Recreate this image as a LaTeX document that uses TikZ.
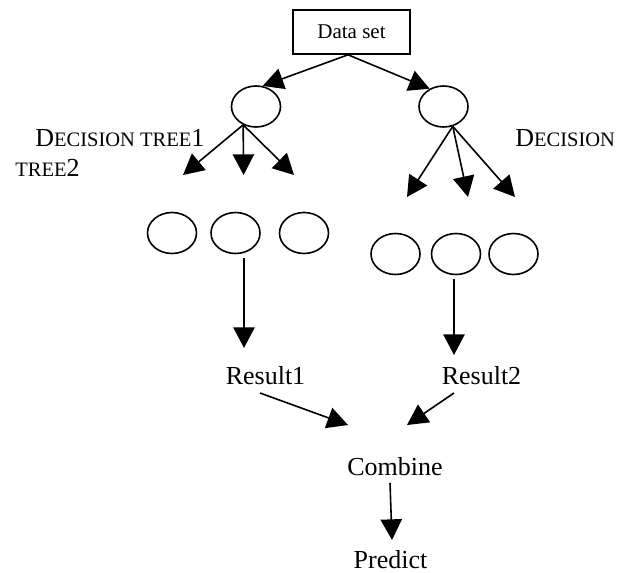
\documentclass[tikz,border=0pt]{standalone}
\usepackage{fontspec}
\setmainfont{Liberation Serif}
\usetikzlibrary{arrows.meta,shapes.geometric}
\newcommand\smallcapsfake[1]{{\fontsize{15.4pt}{15.4pt}\selectfont #1}}
\tikzset{
  arr/.style={line width=1.2pt,-{Triangle[length=15.5pt,width=16pt]}},
  ell/.style={ellipse,draw,line width=1.2pt,minimum width=36.75pt,minimum height=30.75pt,inner sep=0pt},
  boxnode/.style={rectangle,draw,line width=1.2pt,minimum width=87.75pt,minimum height=33pt,inner sep=0pt,font=\fontsize{15.75pt}{16pt}\selectfont},
  lbl/.style={inner sep=0pt,font=\fontsize{19.5pt}{20pt}\selectfont},
}
\begin{document}
\begin{tikzpicture}[x=0.75pt,y=-0.75pt]
\useasboundingbox (0,0) rectangle (625,572);
% nodes
\node[boxnode] (ds) at (351.5,32) {Data set};
\node[ell] (t1) at (256,106.5) {};
\node[ell] (t2) at (443.5,106.5) {};
\node[ell] (a1) at (172,233) {};
\node[ell] (a2) at (235.5,233) {};
\node[ell] (a3) at (304,233) {};
\node[ell] (b1) at (395.5,254) {};
\node[ell] (b2) at (456,254) {};
\node[ell] (b3) at (513.5,254) {};
\node[lbl,anchor=base west] (dec1) at (35,146.7) {D\smallcapsfake{ECISION TREE}1};
\node[lbl,anchor=base west] (tree2) at (15,176.7) {\smallcapsfake{TREE}2};
\node[lbl,anchor=base west] (dec2) at (515,146.7) {D\smallcapsfake{ECISION}};
\node[lbl,anchor=base] (res1) at (265.5,384) {Result1};
\node[lbl,anchor=base] (res2) at (481.5,384) {Result2};
\node[lbl,anchor=base] (comb) at (395,475) {Combine};
\node[lbl,anchor=base] (pred) at (390.5,568) {Predict};
% free ends
\coordinate (l1) at (183,175);
\coordinate (l2) at (243.6,175);
\coordinate (l3) at (294,175);
\coordinate (r1) at (407,197);
\coordinate (r2) at (468,197);
\coordinate (r3) at (515,197);
\coordinate (s1) at (244,258);
\coordinate (e1) at (244,348);
\coordinate (s2) at (454,279);
\coordinate (e2) at (454,355);
\coordinate (s3) at (260,393);
\coordinate (e3) at (348,425);
\coordinate (s4) at (454,393);
\coordinate (e4) at (407,425);
\coordinate (s5) at (390,483);
\coordinate (e5) at (392,540);
% connectors
\draw[arr] ([xshift=-2.6pt]ds.south) -- (t1.72);
\draw[arr] ([xshift=-2.6pt]ds.south) -- (t2.128);
\draw[arr] (t1.235) -- (l1);
\draw[arr] (t1.235) -- (l2);
\draw[arr] (t1.235) -- (l3);
\draw[arr] (t2.295) -- (r1);
\draw[arr] (t2.295) -- (r2);
\draw[arr] (t2.295) -- (r3);
\draw[arr] (s1) -- (e1);
\draw[arr] (s2) -- (e2);
\draw[arr] (s3) -- (e3);
\draw[arr] (s4) -- (e4);
\draw[arr] (s5) -- (e5);
\end{tikzpicture}
\end{document}
